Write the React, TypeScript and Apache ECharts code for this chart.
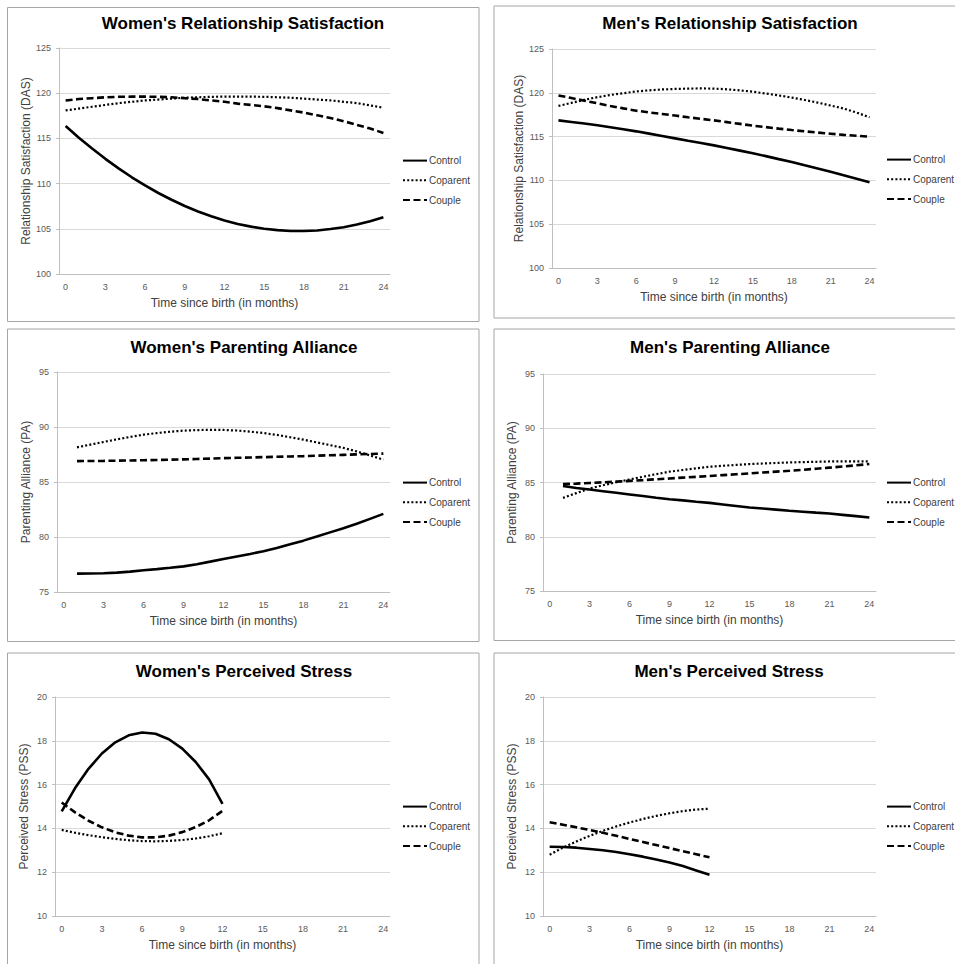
import React, { useEffect, useRef } from "react";
import * as echarts from "echarts";

const months = ["0","1","2","3","4","5","6","7","8","9","10","11","12","13","14","15","16","17","18","19","20","21","22","23","24"];
const seriesNames = ["Control", "Coparent", "Couple"];

// Women's Relationship Satisfaction (DAS)
const wRsControl = [116.37,115.08,113.88,112.74,111.69,110.7,109.8,108.96,108.21,107.52,106.92,106.38,105.93,105.54,105.24,105.0,104.85,104.76,104.76,104.82,104.97,105.18,105.48,105.84,106.29];
const wRsCoparent = [118.1,118.3,118.5,118.7,118.9,119.05,119.2,119.3,119.4,119.5,119.55,119.6,119.62,119.63,119.62,119.6,119.55,119.5,119.4,119.3,119.2,119.05,118.9,118.65,118.4];
const wRsCouple = [119.2,119.35,119.45,119.55,119.6,119.62,119.62,119.6,119.55,119.45,119.35,119.2,119.05,118.85,118.7,118.55,118.35,118.1,117.85,117.55,117.25,116.9,116.5,116.1,115.6];

// Men's Relationship Satisfaction (DAS)
const mRsControl = [116.85,116.67,116.49,116.3,116.07,115.84,115.6,115.34,115.07,114.8,114.53,114.27,114.0,113.7,113.4,113.1,112.77,112.43,112.1,111.73,111.37,111.0,110.6,110.2,109.8];
const mRsCoparent = [118.5,118.85,119.2,119.5,119.75,119.95,120.15,120.28,120.38,120.44,120.48,120.5,120.48,120.4,120.28,120.12,119.92,119.7,119.45,119.18,118.88,118.55,118.2,117.75,117.2];
const mRsCouple = [119.7,119.4,119.1,118.8,118.5,118.22,117.96,117.76,117.58,117.4,117.2,117.03,116.85,116.65,116.45,116.25,116.08,115.91,115.75,115.6,115.46,115.33,115.2,115.1,115.0];

// Women's Parenting Alliance (PA)
const wPaControl = [null,76.67,76.68,76.7,76.76,76.85,76.97,77.08,77.2,77.33,77.53,77.76,78.0,78.23,78.46,78.7,79.0,79.33,79.67,80.04,80.42,80.8,81.2,81.65,82.1];
const wPaCoparent = [null,88.15,88.4,88.64,88.88,89.1,89.3,89.45,89.57,89.67,89.72,89.74,89.73,89.68,89.58,89.45,89.28,89.07,88.85,88.6,88.35,88.1,87.78,87.42,87.03];
const wPaCouple = [null,86.9,86.91,86.92,86.94,86.96,86.98,87.0,87.03,87.06,87.09,87.13,87.17,87.2,87.23,87.26,87.29,87.32,87.35,87.39,87.43,87.47,87.51,87.55,87.58];

// Men's Parenting Alliance (PA)
const mPaControl = [null,84.68,84.5,84.35,84.2,84.05,83.9,83.75,83.6,83.46,83.35,83.23,83.12,82.98,82.84,82.7,82.6,82.5,82.4,82.31,82.22,82.14,82.02,81.9,81.77];
const mPaCoparent = [null,83.58,84.02,84.45,84.75,85.02,85.28,85.53,85.77,86.0,86.15,86.3,86.45,86.54,86.62,86.7,86.75,86.8,86.85,86.88,86.91,86.94,86.95,86.95,86.94];
const mPaCouple = [null,84.85,84.9,84.96,85.02,85.08,85.15,85.22,85.3,85.37,85.45,85.52,85.6,85.68,85.76,85.84,85.92,86.0,86.08,86.17,86.27,86.37,86.47,86.58,86.7];

// Women's Perceived Stress (PSS)
const wPssControl = [14.78,15.84,16.72,17.42,17.93,18.25,18.38,18.32,18.07,17.64,17.03,16.24,15.12];
const wPssCoparent = [13.93,13.8,13.69,13.6,13.52,13.46,13.42,13.41,13.43,13.47,13.54,13.64,13.78];
const wPssCouple = [15.18,14.73,14.35,14.05,13.82,13.67,13.59,13.59,13.67,13.83,14.06,14.37,14.8];

// Men's Perceived Stress (PSS)
const mPssControl = [13.16,13.15,13.12,13.06,13.0,12.92,12.82,12.71,12.58,12.44,12.28,12.08,11.88];
const mPssCoparent = [12.8,13.12,13.4,13.66,13.89,14.09,14.27,14.43,14.57,14.69,14.79,14.86,14.9];
const mPssCouple = [14.28,14.17,14.05,13.93,13.8,13.66,13.52,13.38,13.24,13.1,12.96,12.82,12.68];

const titles = [
  "Women's Relationship Satisfaction",
  "Men's Relationship Satisfaction",
  "Women's Parenting Alliance",
  "Men's Parenting Alliance",
  "Women's Perceived Stress",
  "Men's Perceived Stress",
];
const yNames = [
  "Relationship Satisfaction (DAS)",
  "Relationship Satisfaction (DAS)",
  "Parenting Alliance (PA)",
  "Parenting Alliance (PA)",
  "Perceived Stress (PSS)",
  "Perceived Stress (PSS)",
];
const xName = "Time since birth (in months)";
const yRanges = [
  [100, 125, 5],
  [100, 125, 5],
  [75, 95, 5],
  [75, 95, 5],
  [10, 20, 2],
  [10, 20, 2],
];
const panelData = [
  [wRsControl, wRsCoparent, wRsCouple],
  [mRsControl, mRsCoparent, mRsCouple],
  [wPaControl, wPaCoparent, wPaCouple],
  [mPaControl, mPaCoparent, mPaCouple],
  [wPssControl, wPssCoparent, wPssCouple],
  [mPssControl, mPssCoparent, mPssCouple],
];

// layout (pixels)
const boxes = [
  { x: 7.5, y: 7.5, w: 471.5, h: 314 },
  { x: 494, y: 6, w: 480, h: 312 },
  { x: 7.5, y: 329, w: 471.5, h: 312.5 },
  { x: 494, y: 329, w: 480, h: 311.5 },
  { x: 7.5, y: 653, w: 471.5, h: 330 },
  { x: 494, y: 653, w: 480, h: 330 },
];
const grids = [
  { left: 59, top: 48, width: 331, height: 226 },
  { left: 552, top: 49, width: 324, height: 219 },
  { left: 57, top: 372, width: 333, height: 220 },
  { left: 543, top: 374, width: 333, height: 217 },
  { left: 55, top: 697, width: 335, height: 219 },
  { left: 543, top: 697, width: 333, height: 219 },
];
const titlePos = [
  { x: 243, y: 15 },
  { x: 730, y: 15 },
  { x: 244, y: 339 },
  { x: 730, y: 339 },
  { x: 244, y: 663 },
  { x: 729, y: 663 },
];
const legendPos = [
  { x: 402, y: 155 },
  { x: 886, y: 154 },
  { x: 402, y: 477 },
  { x: 886, y: 477 },
  { x: 402, y: 801 },
  { x: 886, y: 801 },
];

const FONT = "'Liberation Sans', Arial, sans-serif";
const lineStyles = [
  { type: "solid", width: 2.6 },
  { type: [2, 2.2], width: 2.2 },
  { type: [7, 3.5], width: 2.6 },
];

export default function App() {
  const ref = useRef<HTMLDivElement>(null);
  useEffect(() => {
    if (!ref.current) return;
    const chart = echarts.init(ref.current, null, { renderer: "svg" });
    const grid: any[] = [];
    const xAxis: any[] = [];
    const yAxis: any[] = [];
    const series: any[] = [];
    const title: any[] = [];
    const legend: any[] = [];
    const graphic: any[] = [];

    for (let i = 0; i < 6; i++) {
      const b = boxes[i];
      graphic.push({
        type: "rect",
        shape: { x: b.x, y: b.y, width: b.w, height: b.h },
        style: { fill: "none", stroke: "#a6a6a6", lineWidth: 1 },
        silent: true,
        z: -1,
      });
      grid.push({ ...grids[i], containLabel: false });
      title.push({
        text: titles[i],
        left: titlePos[i].x,
        top: titlePos[i].y,
        textAlign: "center",
        padding: 0,
        textStyle: { fontFamily: FONT, fontSize: 17, fontWeight: "bold", color: "#000" },
      });
      legend.push({
        data: seriesNames,
        orient: "vertical",
        left: legendPos[i].x,
        top: legendPos[i].y,
        itemWidth: 24,
        itemHeight: 14,
        itemGap: 8.5,
        padding: 0,
        selectedMode: false,
        itemStyle: { opacity: 0 },
        textStyle: { fontFamily: FONT, fontSize: 10, color: "#404040", padding: [0, 0, 0, -3] },
      });
      xAxis.push({
        type: "category",
        gridIndex: i,
        data: months,
        boundaryGap: true,
        name: xName,
        nameLocation: "middle",
        nameGap: 23,
        nameTextStyle: { fontFamily: FONT, fontSize: 12, color: "#404040" },
        axisLine: { show: true, lineStyle: { color: "#bfbfbf", width: 1 } },
        axisTick: { show: false },
        axisLabel: { interval: 2, margin: 8, fontFamily: FONT, fontSize: 9, color: "#595959" },
        splitLine: { show: false },
      });
      const [mn, mx, step] = yRanges[i];
      yAxis.push({
        type: "value",
        gridIndex: i,
        min: mn,
        max: mx,
        interval: step,
        name: yNames[i],
        nameLocation: "middle",
        nameGap: 25,
        nameTextStyle: { fontFamily: FONT, fontSize: 12, color: "#404040" },
        axisLine: { show: true, lineStyle: { color: "#bfbfbf", width: 1 } },
        axisTick: { show: true, length: 3, lineStyle: { color: "#bfbfbf" } },
        axisLabel: { margin: 8, fontFamily: FONT, fontSize: 9, color: "#595959" },
        splitLine: { show: true, lineStyle: { color: "#d9d9d9", width: 1 } },
      });
      for (let s = 0; s < 3; s++) {
        series.push({
          type: "line",
          name: seriesNames[s],
          xAxisIndex: i,
          yAxisIndex: i,
          data: panelData[i][s],
          symbol: "none",
          smooth: false,
          connectNulls: false,
          lineStyle: { color: "#000", ...lineStyles[s] },
          itemStyle: { color: "#000" },
        });
      }
    }

    chart.setOption({
      animation: false,
      backgroundColor: "#ffffff",
      title,
      legend,
      grid,
      xAxis,
      yAxis,
      series,
      graphic,
    });
    return () => chart.dispose();
  }, []);
  return (
    <div
      ref={ref}
      style={{ position: "fixed", left: 0, top: 0, width: 955, height: 964 }}
    />
  );
}
